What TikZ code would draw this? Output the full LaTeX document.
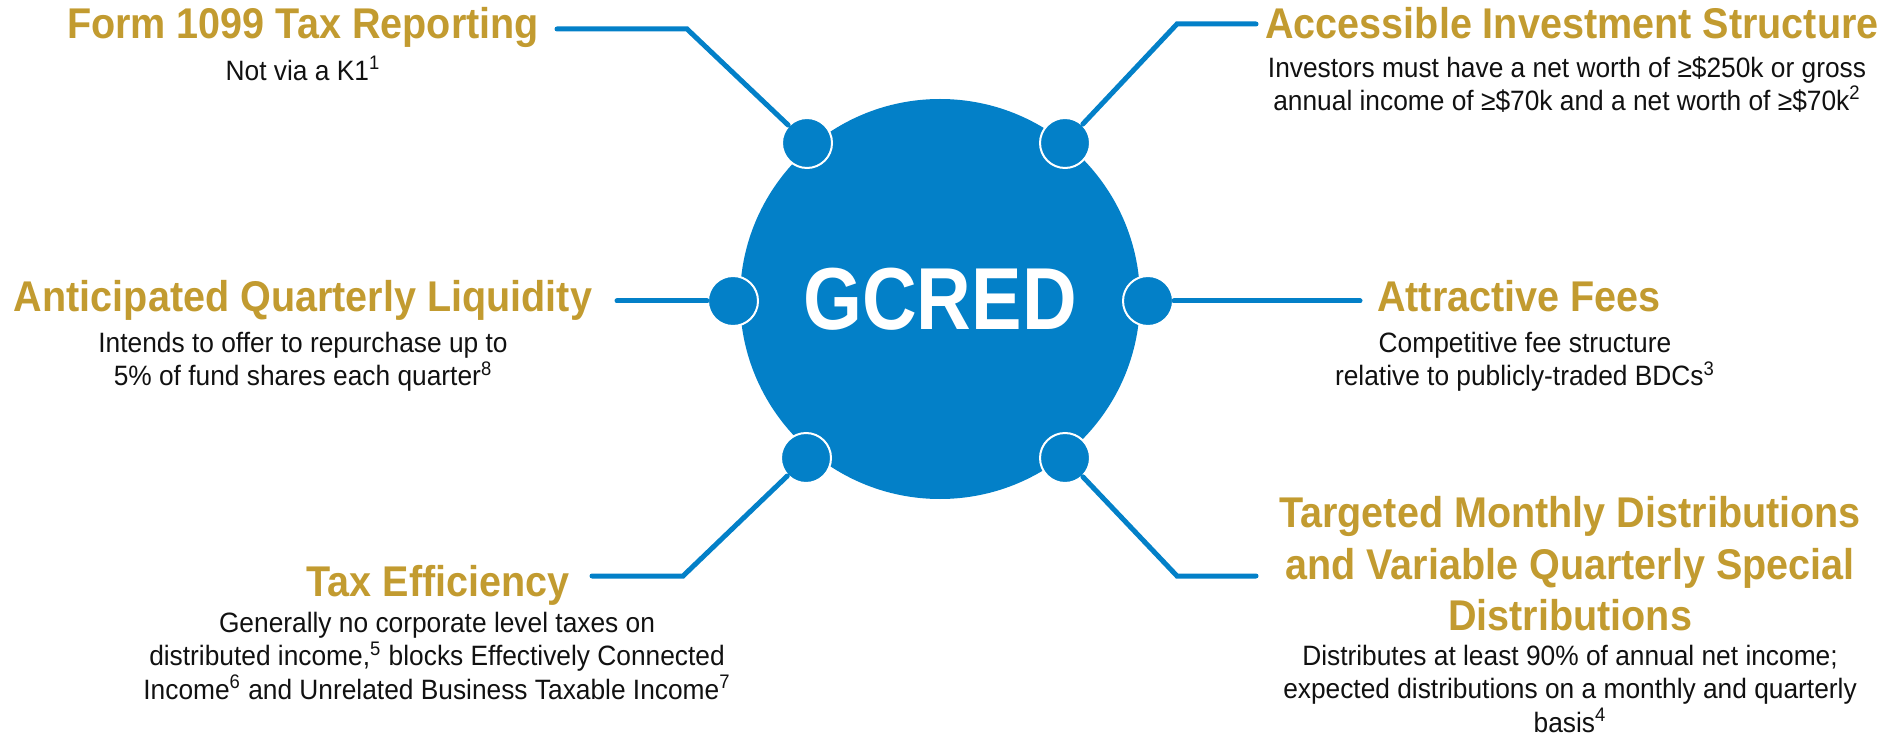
\documentclass[tikz,border=0pt]{standalone}
\usepackage{fontspec}
\setmainfont{Liberation Sans}[FakeStretch=0.94]
\newfontfamily\headfont{Liberation Sans}[FakeStretch=0.92]
\newfontfamily\hubfont{Liberation Sans}[FakeStretch=0.86]
\usetikzlibrary{positioning, calc}
\definecolor{cblue}{HTML}{0380C8}
\definecolor{cgold}{HTML}{C29B30}
\definecolor{cink}{HTML}{111111}
\tikzset{
  every picture/.style={x=0.5pt, y=-0.5pt},
  hub/.style={circle, fill=cblue, minimum size=200pt, inner sep=0pt, text=white,
    font=\hubfont\bfseries\fontsize{44}{50}\selectfont},
  dot/.style={circle, fill=cblue, draw=white, line width=1pt, minimum size=25pt, inner sep=0pt},
  link/.style={draw=cblue, line width=2.5pt, line cap=round},
  head/.style={font=\headfont\bfseries\fontsize{21.5}{25.8}\selectfont, text=cgold, align=center, inner sep=0pt},
  body/.style={font=\fontsize{14}{16.6}\selectfont, text=cink, align=center, inner sep=0pt},
}

\begin{document}
\begin{tikzpicture}
  \useasboundingbox (0,0) rectangle (1898,737);
  % centre
  \node[hub] (gcred) at (940,299) {GCRED};
  \foreach \nm/\px/\py in {tl/807/143, tr/1065/143, l/733/301, r/1148/301, bl/806/458, br/1065/458}
    \node[dot] (\nm) at (\px,\py) {};
  % connectors
  \coordinate (tlk) at (687,29);  \coordinate (tle) at (557,29);
  \coordinate (trk) at (1177,24); \coordinate (tre) at (1256,24);
  \coordinate (le) at (617,301);  \coordinate (re) at (1360,301);
  \coordinate (blk) at (683,576); \coordinate (ble) at (592,576);
  \coordinate (brk) at (1177,576); \coordinate (bre) at (1256,576);
  \draw[link] (tl) -- (tlk) -- (tle);
  \draw[link] (tr) -- (trk) -- (tre);
  \draw[link] (l) -- (le);
  \draw[link] (r) -- (re);
  \draw[link] (bl) -- (blk) -- (ble);
  \draw[link] (br) -- (brk) -- (bre);
  % left side
  \node[head, anchor=base] (formT) at (303,39) {Form 1099 Tax Reporting};
  \node[body, anchor=north] (formB) at (303,56) {Not via a K1\textsuperscript{1}};
  \node[head, anchor=base] (liqT) at (303,312) {Anticipated Quarterly Liquidity};
  \node[body, anchor=north] (liqB) at (303,332) {Intends to offer to repurchase up to\\5\% of fund shares each quarter\textsuperscript{8}};
  \node[head, anchor=base] (taxT) at (438,596) {Tax Efficiency};
  \node[body, anchor=north] (taxB) at (437,612) {Generally no corporate level taxes on\\distributed income,\textsuperscript{5} blocks Effectively Connected\\Income\textsuperscript{6} and Unrelated Business Taxable Income\textsuperscript{7}};
  % right side
  \node[head, anchor=base] (accT) at (1572,39) {Accessible Investment Structure};
  \node[body, anchor=north] (accB) at (1567,56) {Investors must have a net worth of ≥\$250k or gross\\annual income of ≥\$70k and a net worth of ≥\$70k\textsuperscript{2}};
  \node[head, anchor=base] (feeT) at (1519,312) {Attractive Fees};
  \node[body, anchor=north] (feeB) at (1525,332) {Competitive fee structure\\relative to publicly-traded BDCs\textsuperscript{3}};
  \node[head, anchor=north] (distT) at (1570,496) {Targeted Monthly Distributions\\and Variable Quarterly Special\\Distributions};
  \node[body, anchor=north] (distB) at (1570,645) {Distributes at least 90\% of annual net income;\\expected distributions on a monthly and quarterly\\basis\textsuperscript{4}};
\end{tikzpicture}
\end{document}
